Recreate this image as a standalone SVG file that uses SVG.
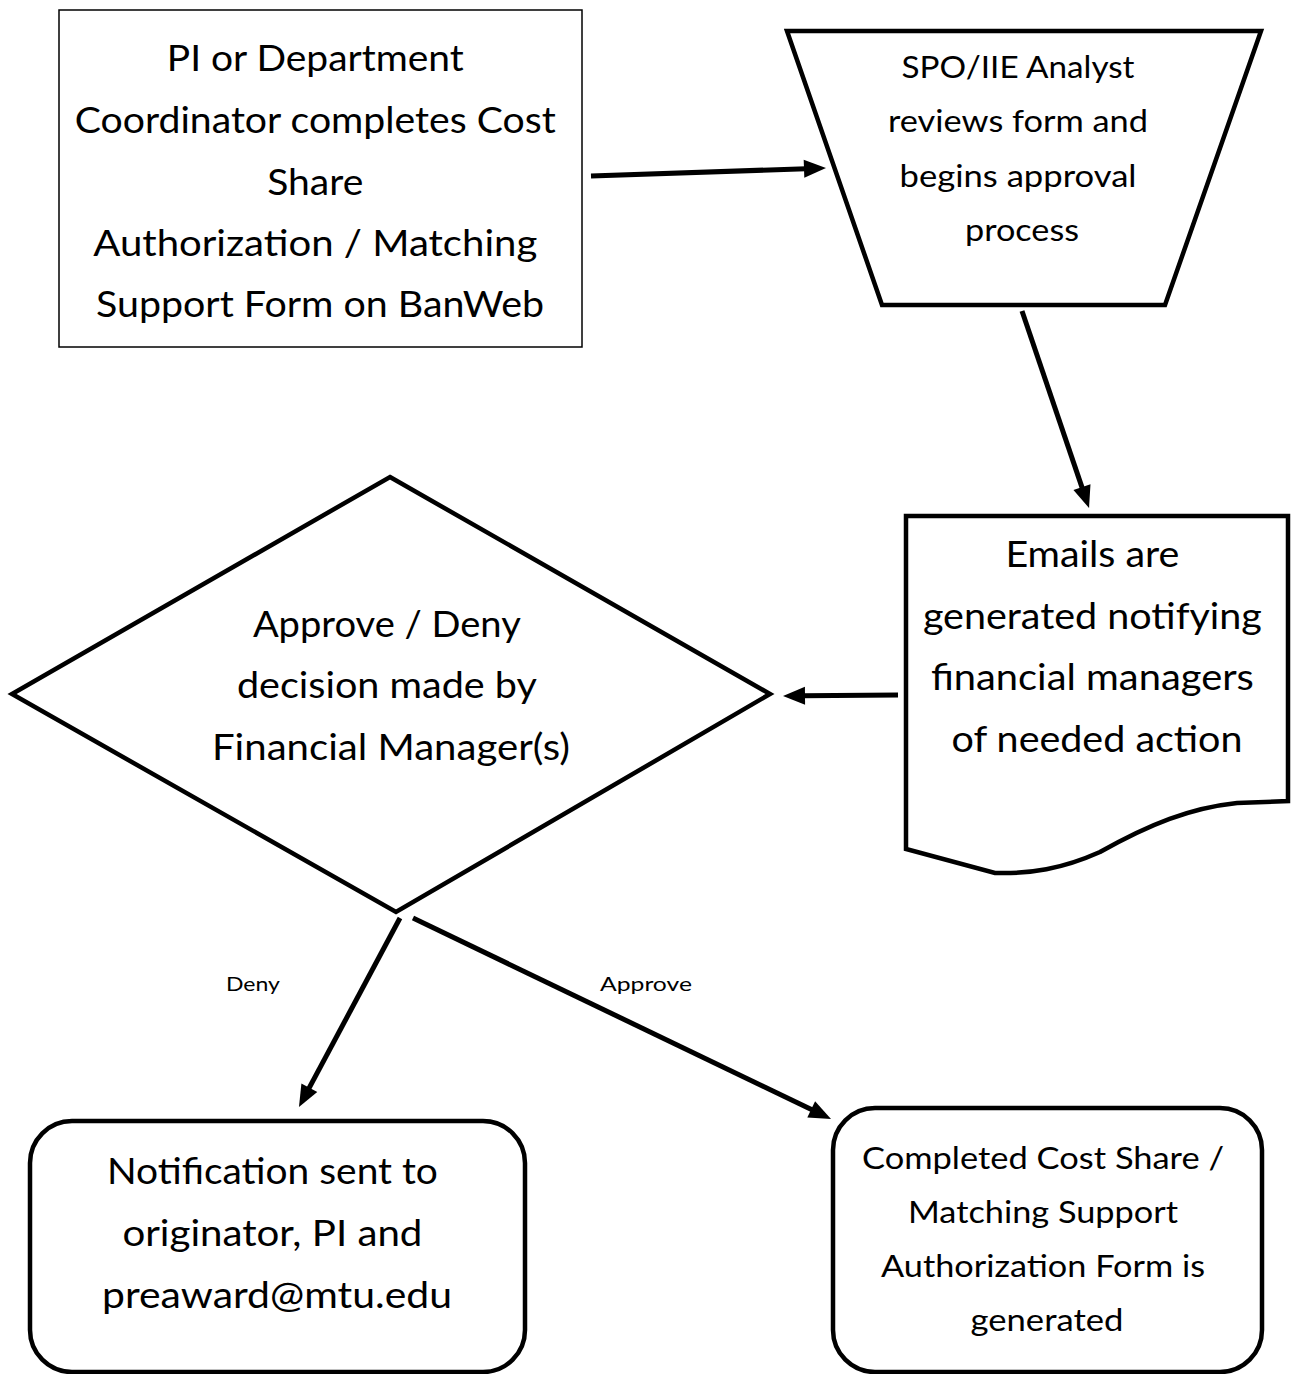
<svg xmlns="http://www.w3.org/2000/svg" width="1293" height="1374" viewBox="0 0 1293 1374">
<defs>
<style>
.t{font-family:Lato,"Open Sans","Liberation Sans",sans-serif;fill:#000;text-anchor:middle}
.s{fill:#fff;stroke:#000;stroke-width:4.5;stroke-linejoin:miter}
.c{stroke:#000;stroke-width:5;fill:none}
</style>
<marker id="ah" markerUnits="userSpaceOnUse" markerWidth="24" markerHeight="24" viewBox="0 0 24 24" refX="2" refY="12" orient="auto" overflow="visible">
<path d="M0,3 L22,12 L0,21 Z" fill="#000"/>
</marker>
</defs>
<rect width="1293" height="1374" fill="#fff"/>
<g id="connectors">
<line class="c" x1="591" y1="176" x2="806" y2="168.7" marker-end="url(#ah)"/>
<line class="c" x1="1022" y1="311" x2="1082.6" y2="489.1" marker-end="url(#ah)"/>
<line class="c" x1="898" y1="695" x2="803" y2="695.8" marker-end="url(#ah)"/>
<line class="c" x1="400" y1="918" x2="308.4" y2="1089.4" marker-end="url(#ah)"/>
<line class="c" x1="413" y1="918" x2="813" y2="1110.3" marker-end="url(#ah)"/>
<text class="t" x="253" y="991" font-size="20" textLength="54" lengthAdjust="spacingAndGlyphs">Deny</text>
<text class="t" x="646" y="991" font-size="20" textLength="92" lengthAdjust="spacingAndGlyphs">Approve</text>
</g>
<g id="n1">
<rect x="59" y="10" width="523" height="337" fill="#fff" stroke="#000" stroke-width="1.5"/>
<text class="t" font-size="37">
<tspan x="320" y="71" textLength="297" lengthAdjust="spacingAndGlyphs">PI or Department</tspan>
<tspan x="320" y="133" textLength="481" lengthAdjust="spacingAndGlyphs">Coordinator completes Cost</tspan>
<tspan x="320" y="195" textLength="96" lengthAdjust="spacingAndGlyphs">Share</tspan>
<tspan x="320" y="256" textLength="444" lengthAdjust="spacingAndGlyphs">Authorization /  Matching</tspan>
<tspan x="320" y="317" textLength="448" lengthAdjust="spacingAndGlyphs">Support Form on BanWeb</tspan>
</text>
</g>
<g id="n2">
<path class="s" d="M787,31 L1261,31 L1165,305 L882,305 Z"/>
<text class="t" font-size="31">
<tspan x="1022" y="78" textLength="233" lengthAdjust="spacingAndGlyphs">SPO/IIE Analyst</tspan>
<tspan x="1022" y="132" textLength="260" lengthAdjust="spacingAndGlyphs">reviews form and</tspan>
<tspan x="1022" y="187" textLength="237" lengthAdjust="spacingAndGlyphs">begins approval</tspan>
<tspan x="1022" y="241" textLength="114" lengthAdjust="spacingAndGlyphs">process</tspan>
</text>
</g>
<g id="n3">
<path class="s" d="M906,516 H1288 V801 L1237,803 C1190,808 1150,824 1100,852 C1062,869 1030,874 995,873 L906,849 Z"/>
<text class="t" font-size="36">
<tspan x="1097" y="567" textLength="174" lengthAdjust="spacingAndGlyphs">Emails are</tspan>
<tspan x="1097" y="629" textLength="339" lengthAdjust="spacingAndGlyphs">generated notifying</tspan>
<tspan x="1097" y="690" textLength="323" lengthAdjust="spacingAndGlyphs">financial managers</tspan>
<tspan x="1097" y="752" textLength="291" lengthAdjust="spacingAndGlyphs">of needed action</tspan>
</text>
</g>
<g id="n4">
<path class="s" d="M390,477 L770,694 L396,912 L12,694 Z"/>
<text class="t" font-size="36">
<tspan x="391" y="637" textLength="267" lengthAdjust="spacingAndGlyphs">Approve / Deny</tspan>
<tspan x="391" y="698" textLength="299" lengthAdjust="spacingAndGlyphs">decision made by</tspan>
<tspan x="391" y="760" textLength="358" lengthAdjust="spacingAndGlyphs">Financial Manager(s)</tspan>
</text>
</g>
<g id="n5">
<rect class="s" x="30" y="1121" width="495" height="251" rx="42" ry="42"/>
<text class="t" font-size="36">
<tspan x="277" y="1184" textLength="331" lengthAdjust="spacingAndGlyphs">Notification sent to</tspan>
<tspan x="277" y="1246" textLength="300" lengthAdjust="spacingAndGlyphs">originator, PI and</tspan>
<tspan x="277" y="1308" textLength="350" lengthAdjust="spacingAndGlyphs">preaward@mtu.edu</tspan>
</text>
</g>
<g id="n6">
<rect class="s" x="833" y="1108" width="429" height="264" rx="42" ry="42"/>
<text class="t" font-size="31">
<tspan x="1047" y="1169" textLength="362" lengthAdjust="spacingAndGlyphs">Completed Cost Share /</tspan>
<tspan x="1047" y="1223" textLength="270" lengthAdjust="spacingAndGlyphs">Matching Support</tspan>
<tspan x="1047" y="1277" textLength="324" lengthAdjust="spacingAndGlyphs">Authorization Form is</tspan>
<tspan x="1047" y="1331" textLength="153" lengthAdjust="spacingAndGlyphs">generated</tspan>
</text>
</g>
</svg>
